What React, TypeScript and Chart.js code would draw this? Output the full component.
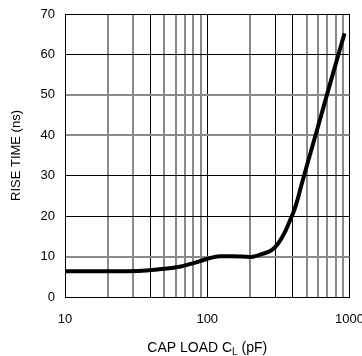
import React, { useEffect, useRef } from "react";
import { Chart, registerables } from "chart.js";

Chart.register(...registerables);

// Data
const capLoad = [10, 20, 33, 46, 64, 79, 99, 122, 151, 199, 241, 284, 316, 352, 382, 409, 437, 449, 600, 750, 922];
const riseTime = [6.4, 6.4, 6.45, 6.85, 7.5, 8.3, 9.4, 10.1, 10.1, 9.9, 10.6, 11.6, 13.3, 16.1, 19.0, 21.5, 24.8, 26.4, 42.1, 54.2, 65.2];

const xGridValues = [10, 20, 30, 40, 50, 60, 70, 80, 90, 100, 200, 300, 400, 500, 600, 700, 800, 900, 1000];
const xTickLabels = ["10", "100", "1000"];
const xGreyLines = [20, 30, 50, 60, 70, 80, 90, 200, 500, 600, 700, 800, 900];
const yGreyLines = [10, 40, 50];

const yTitle = "RISE TIME (ns)";
const xTitleMain = "CAP LOAD C";
const xTitleSub = "L";
const xTitleTail = " (pF)";

const FONT = "'Liberation Sans', Arial, Helvetica, sans-serif";

const subTitlePlugin = {
  id: "subTitle",
  afterDraw(chart: any, _args: any, opts: any) {
    const ctx = chart.ctx;
    const area = chart.chartArea;
    ctx.save();
    ctx.fillStyle = "#000";
    ctx.textBaseline = "alphabetic";
    ctx.textAlign = "left";
    const mainFont = `${opts.size}px ${FONT}`;
    const subFont = `${opts.subSize}px ${FONT}`;
    ctx.font = mainFont;
    const w1 = ctx.measureText(opts.main).width;
    const w3 = ctx.measureText(opts.tail).width;
    ctx.font = subFont;
    const w2 = ctx.measureText(opts.sub).width;
    const total = w1 + w2 + w3;
    let x = (area.left + area.right) / 2 - total / 2;
    const y = opts.y;
    ctx.font = mainFont;
    ctx.fillText(opts.main, x, y);
    x += w1;
    ctx.font = subFont;
    ctx.fillText(opts.sub, x, y + opts.subShift);
    x += w2;
    ctx.font = mainFont;
    ctx.fillText(opts.tail, x, y);
    ctx.restore();
  },
};

export default function App() {
  const ref = useRef<HTMLCanvasElement | null>(null);

  useEffect(() => {
    if (!ref.current) return;
    const chart = new Chart(ref.current, {
      type: "line",
      data: {
        datasets: [
          {
            data: capLoad.map((c, i) => ({ x: c, y: riseTime[i] })),
            borderColor: "#000",
            borderWidth: 4,
            pointRadius: 0,
            cubicInterpolationMode: "monotone",
            fill: false,
          },
        ],
      },
      plugins: [subTitlePlugin],
      options: {
        responsive: false,
        animation: false,
        events: [],
        layout: { padding: { top: 14, right: 12.5, bottom: 0, left: 0 } },
        plugins: {
          legend: { display: false },
          tooltip: { enabled: false },
          subTitle: {
            main: xTitleMain,
            sub: xTitleSub,
            tail: xTitleTail,
            size: 14,
            subSize: 10,
            subShift: 3,
            y: 351.5,
          },
        } as any,
        scales: {
          x: {
            type: "logarithmic",
            min: 10,
            max: 1000,
            afterBuildTicks: (scale: any) => {
              scale.ticks = xGridValues.map((v) => ({ value: v }));
            },
            afterFit: (scale: any) => {
              scale.height = 59;
              scale.paddingLeft = 0;
              scale.paddingRight = 0;
            },
            ticks: {
              autoSkip: false,
              maxRotation: 0,
              padding: 15,
              color: "#000",
              font: { family: FONT, size: 13 },
              callback: (v: any) => {
                const s = String(v);
                return xTickLabels.includes(s) ? s : "";
              },
            },
            grid: {
              drawTicks: false,
              color: (c: any) => (xGreyLines.includes(c.tick?.value) ? "#8a8a8a" : "#000"),
              lineWidth: (c: any) => (xGreyLines.includes(c.tick?.value) ? 2 : 1),
            },
            border: { color: "#000", width: 1 },
          },
          y: {
            type: "linear",
            min: 0,
            max: 70,
            afterFit: (scale: any) => {
              scale.width = 65;
              scale.paddingTop = 0;
              scale.paddingBottom = 0;
            },
            ticks: {
              stepSize: 10,
              padding: 10,
              color: "#000",
              font: { family: FONT, size: 13 },
            },
            grid: {
              drawTicks: false,
              color: (c: any) => (yGreyLines.includes(c.tick?.value) ? "#8a8a8a" : "#000"),
              lineWidth: (c: any) => (yGreyLines.includes(c.tick?.value) ? 2 : 1),
            },
            border: { color: "#000", width: 1 },
            title: {
              display: true,
              text: yTitle,
              color: "#000",
              font: { family: FONT, size: 13 },
              padding: { top: 9, bottom: 0 },
            },
          },
        },
      },
    } as any);
    return () => chart.destroy();
  }, []);

  return (
    <div style={{ position: "fixed", left: 0, top: 0, width: 362, height: 356, background: "#fff" }}>
      <canvas ref={ref} width={362} height={356} style={{ display: "block", width: 362, height: 356 }} />
    </div>
  );
}
